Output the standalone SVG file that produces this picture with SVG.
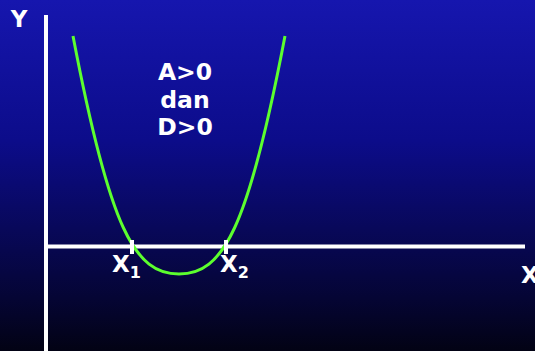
<svg xmlns="http://www.w3.org/2000/svg" width="535" height="351" viewBox="0 0 535 351">
<defs>
<linearGradient id="bg" x1="0" y1="0" x2="0" y2="1">
<stop offset="0" stop-color="#1616ae"/>
<stop offset="0.4" stop-color="#0c0c8a"/>
<stop offset="0.65" stop-color="#08085a"/>
<stop offset="0.85" stop-color="#050534"/>
<stop offset="1" stop-color="#020214"/>
</linearGradient>
<style>
.t{font-family:"DejaVu Sans",Verdana,sans-serif;font-weight:bold;fill:#ffffff;}
.ax{stroke:#ffffff;stroke-width:4;fill:none;}
.tk{stroke:#ffffff;stroke-width:4;}
.cv{stroke:#5cff2e;stroke-width:3;fill:none;}
</style>
</defs>
<rect x="0" y="0" width="535" height="351" fill="url(#bg)"/>
<g id="connectors">
<line class="ax" x1="46" y1="15" x2="46" y2="351"/>
<line class="ax" x1="46" y1="246.5" x2="525" y2="246.5"/>
</g>
<g id="curve">
<path class="cv" d="M73,36 C110,230 135,274 179,274 C223,274 248,230 285,36"/>
</g>
<g id="ticks">
<line class="tk" x1="132" y1="240" x2="132" y2="254"/>
<line class="tk" x1="226" y1="240" x2="226" y2="254"/>
</g>
<g id="label-y"><text class="t" x="19" y="27" font-size="23" text-anchor="middle">Y</text></g>
<g id="label-x"><text class="t" x="521" y="283" font-size="23">X</text></g>
<g id="label-x1"><text class="t" x="112" y="272" font-size="23">X<tspan font-size="16" dy="6">1</tspan></text></g>
<g id="label-x2"><text class="t" x="220" y="272" font-size="23">X<tspan font-size="16" dy="6">2</tspan></text></g>
<g id="condition">
<text class="t" x="185" y="80" font-size="23.5" text-anchor="middle">A&gt;0</text>
<text class="t" x="185" y="108" font-size="23.5" text-anchor="middle">dan</text>
<text class="t" x="185" y="135" font-size="23.5" text-anchor="middle">D&gt;0</text>
</g>
</svg>
